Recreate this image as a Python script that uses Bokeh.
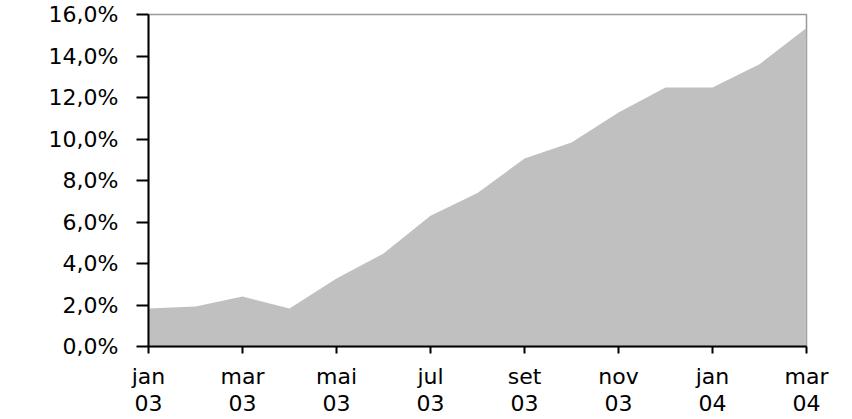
from bokeh.plotting import figure
from bokeh.models import Range1d, FixedTicker
from bokeh.embed import file_html
from bokeh.resources import INLINE

months = ["jan 03", "fev 03", "mar 03", "abr 03", "mai 03", "jun 03", "jul 03",
          "ago 03", "set 03", "out 03", "nov 03", "dez 03", "jan 04", "fev 04", "mar 04"]
values = [1.83, 1.93, 2.41, 1.83, 3.28, 4.48, 6.3, 7.4, 9.06, 9.83, 11.28, 12.48, 12.48, 13.6, 15.35]
x_tick_labels = ["jan\n03", "mar\n03", "mai\n03", "jul\n03", "set\n03", "nov\n03", "jan\n04", "mar\n04"]
y_ticks = [0, 2, 4, 6, 8, 10, 12, 14, 16]
y_tick_labels = ["0,0%", "2,0%", "4,0%", "6,0%", "8,0%", "10,0%", "12,0%", "14,0%", "16,0%"]

x = list(range(len(months)))
x_ticks = x[::2]

FONT = "DejaVu Sans"

p = figure(width=850, height=419, output_backend="svg", toolbar_location=None,
           x_range=Range1d(0, len(months) - 1), y_range=Range1d(0, 16),
           min_border_left=148, min_border_right=44, min_border_top=14, min_border_bottom=72)
p.varea(x=x, y1=[0] * len(x), y2=values, fill_color="#c0c0c0", fill_alpha=1)

p.grid.visible = False
p.outline_line_color = "#999999"
p.outline_line_width = 1.5

p.xaxis.ticker = FixedTicker(ticks=x_ticks)
p.xaxis.major_label_overrides = {t: l for t, l in zip(x_ticks, x_tick_labels)}
p.yaxis.ticker = FixedTicker(ticks=y_ticks)
p.yaxis.major_label_overrides = {t: l for t, l in zip(y_ticks, y_tick_labels)}

for ax in (p.xaxis, p.yaxis):
    ax.axis_line_color = "black"
    ax.axis_line_width = 2
    ax.major_tick_line_color = "black"
    ax.major_tick_line_width = 2
    ax.minor_tick_line_color = None
    ax.major_tick_in = 0
    ax.major_label_text_font = FONT
    ax.major_label_text_font_size = "22px"
    ax.major_label_text_color = "black"

p.yaxis.major_tick_out = 12
p.yaxis.major_label_standoff = 18
p.xaxis.major_tick_out = 7
p.xaxis.major_label_standoff = 10
p.xaxis.major_label_text_line_height = 1.1

open("out.html", "w").write(file_html(p, INLINE))
